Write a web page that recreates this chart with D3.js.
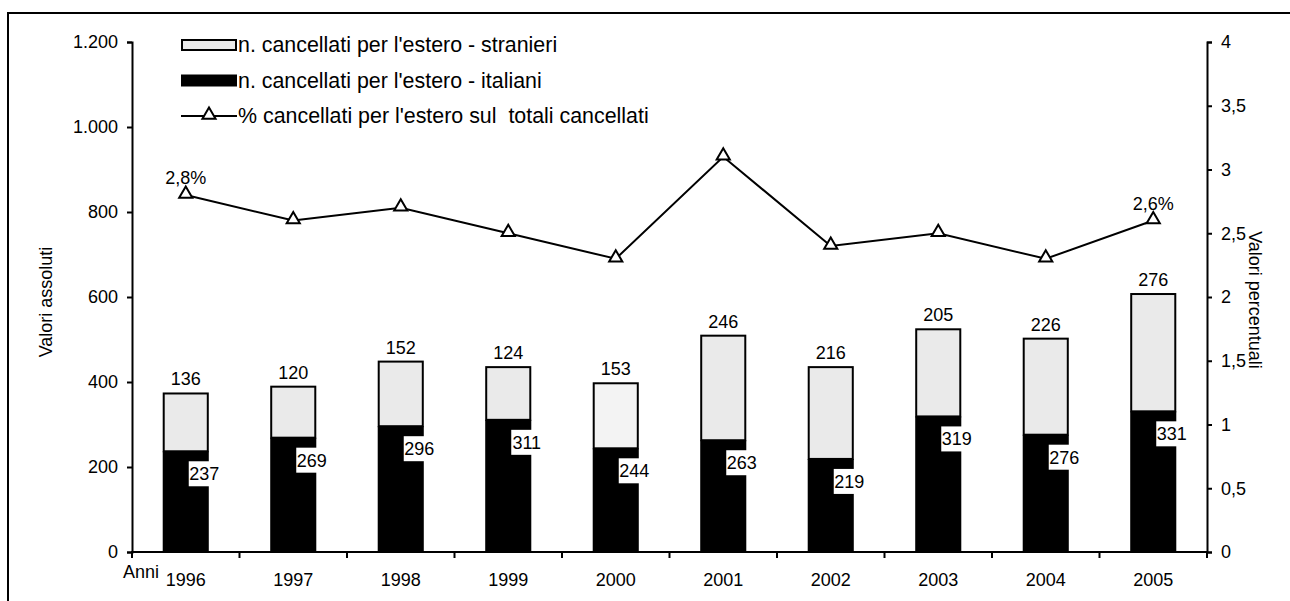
<!DOCTYPE html>
<html>
<head>
<meta charset="utf-8">
<title>cancellati per l'estero</title>
<style>
  body { margin: 0; background: #fff; }
  svg text { font-family: "Liberation Sans", Arial, sans-serif; fill: #000; white-space: pre; }
</style>
</head>
<body>
<div id="chart"></div>
<script src="https://cdn.jsdelivr.net/npm/d3@7/dist/d3.min.js"></script>
<script>
// dati
var anni = ["1996","1997","1998","1999","2000","2001","2002","2003","2004","2005"];
var italiani = [237, 269, 296, 311, 244, 263, 219, 319, 276, 331];
var stranieri = [136, 120, 152, 124, 153, 246, 216, 205, 226, 276];
var percentuale = [2.8, 2.6, 2.7, 2.5, 2.3, 3.1, 2.4, 2.5, 2.3, 2.6];
var tickSx = [0, 200, 400, 600, 800, 1000, 1200];
var tickDx = [0, 0.5, 1, 1.5, 2, 2.5, 3, 3.5, 4];
var legenda = ["n. cancellati per l'estero - stranieri", "n. cancellati per l'estero - italiani", "% cancellati per l'estero sul  totali cancellati"];

var W = 1290, H = 601;
var mLeft = 132, mRight = 1207, mTop = 42, mBottom = 552;
var fs = "18px";

var svg = d3.select("#chart").append("svg")
  .attr("width", W).attr("height", H);

// cornice (solo alto e sinistra visibili)
svg.append("rect")
  .attr("x", 8).attr("y", 13)
  .attr("width", W + 20).attr("height", H + 20)
  .attr("fill", "none").attr("stroke", "#000").attr("stroke-width", 2);

var x = d3.scaleBand().domain(anni).range([mLeft, mRight]).paddingInner(0.59).paddingOuter(0.295);
var xTicks = d3.scaleBand().domain(anni).range([mLeft, mRight]);
var ySx = d3.scaleLinear().domain([0, 1200]).range([mBottom, mTop]);
var yDx = d3.scaleLinear().domain([0, 4]).range([mBottom, mTop]);

var itFmt = function(v){ return d3.format(",")(v).replace(/,/g, "."); };
var pctFmt = function(v){ return String(v).replace(".", ","); };

// barre stranieri (sopra)
svg.append("g").selectAll("rect")
  .data(anni).enter().append("rect")
  .attr("x", function(d){ return x(d); })
  .attr("y", function(d,i){ return ySx(italiani[i] + stranieri[i]); })
  .attr("width", x.bandwidth())
  .attr("height", function(d,i){ return ySx(italiani[i]) - ySx(italiani[i] + stranieri[i]); })
  .attr("fill", function(d){ return d == "2000" ? "#f3f3f3" : "#eaeaea"; })
  .attr("stroke", "#000").attr("stroke-width", 2);

// barre italiani
svg.append("g").selectAll("rect")
  .data(anni).enter().append("rect")
  .attr("x", function(d){ return x(d) - 1; })
  .attr("y", function(d,i){ return ySx(italiani[i]); })
  .attr("width", x.bandwidth() + 2)
  .attr("height", function(d,i){ return mBottom - ySx(italiani[i]); })
  .attr("fill", "#000");

// etichette stranieri
svg.append("g").selectAll("text")
  .data(anni).enter().append("text")
  .attr("x", function(d){ return x(d) + x.bandwidth()/2; })
  .attr("y", function(d,i){ return ySx(italiani[i] + stranieri[i]) - 8; })
  .attr("text-anchor", "middle").attr("font-size", fs)
  .text(function(d,i){ return stranieri[i]; });

// etichette italiani (box bianco)
var lab = svg.append("g").selectAll("g")
  .data(anni).enter().append("g")
  .attr("transform", function(d,i){
    return "translate(" + (x(d) + x.bandwidth()/2 + 3) + "," + (ySx(italiani[i]) + 10) + ")";
  });
lab.append("rect").attr("width", 31).attr("height", 25).attr("fill", "#fff");
lab.append("text").attr("x", 15.5).attr("y", 19)
  .attr("text-anchor", "middle").attr("font-size", fs)
  .text(function(d,i){ return italiani[i]; });

// assi
var axSx = svg.append("g").attr("transform", "translate(" + mLeft + ",0)")
  .call(d3.axisLeft(ySx).tickValues(tickSx).tickFormat(itFmt).tickSizeOuter(0).tickSize(5).tickPadding(9));
var axDx = svg.append("g").attr("transform", "translate(" + mRight + ",0)")
  .call(d3.axisRight(yDx).tickValues(tickDx).tickFormat(pctFmt).tickSizeOuter(0).tickSize(5).tickPadding(9));
var axX = svg.append("g").attr("transform", "translate(0," + mBottom + ")");
axX.append("line").attr("x1", mLeft - 1).attr("x2", mRight + 1).attr("stroke", "#000").attr("stroke-width", 2);
axX.selectAll(".tk").data(anni.concat(["end"])).enter().append("line")
  .attr("x1", function(d,i){ return i < anni.length ? xTicks(d) : mRight; })
  .attr("x2", function(d,i){ return i < anni.length ? xTicks(d) : mRight; })
  .attr("y1", 0).attr("y2", 6).attr("stroke", "#000").attr("stroke-width", 2);
axX.selectAll(".yr").data(anni).enter().append("text")
  .attr("x", function(d){ return x(d) + x.bandwidth()/2; })
  .attr("y", 34).attr("text-anchor", "middle").attr("font-size", fs)
  .text(function(d){ return d; });
axX.append("text").attr("x", 123).attr("y", 26).attr("font-size", fs).text("Anni");

[axSx, axDx].forEach(function(a){
  a.select(".domain").attr("stroke-width", 2);
  a.selectAll(".tick line").attr("stroke-width", 2);
  a.selectAll(".tick text").attr("font-size", fs).attr("font-family", "Liberation Sans, Arial, sans-serif");
});

// titoli assi
svg.append("text").attr("transform", "translate(52,302) rotate(-90)")
  .attr("text-anchor", "middle").attr("font-size", fs).text("Valori assoluti");
svg.append("text").attr("transform", "translate(1249,300) rotate(90)")
  .attr("text-anchor", "middle").attr("font-size", fs).text("Valori percentuali");

// linea percentuale
var cx = function(i){ return x(anni[i]) + x.bandwidth()/2; };
var line = d3.line().x(function(d,i){ return cx(i); }).y(function(d){ return yDx(d); });
svg.append("path").datum(percentuale).attr("d", line)
  .attr("fill", "none").attr("stroke", "#000").attr("stroke-width", 2);

var tri = d3.symbol().type(d3.symbolTriangle).size(75);
svg.append("g").selectAll("path")
  .data(percentuale).enter().append("path")
  .attr("d", tri)
  .attr("transform", function(d,i){ return "translate(" + cx(i) + "," + (yDx(d) - 1) + ")"; })
  .attr("fill", "#fff").attr("stroke", "#000").attr("stroke-width", 2);

// etichette primo e ultimo
[0, percentuale.length - 1].forEach(function(i){
  svg.append("text").attr("x", cx(i)).attr("y", yDx(percentuale[i]) - 11)
    .attr("text-anchor", "middle").attr("font-size", fs)
    .text(pctFmt(percentuale[i]) + "%");
});

// legenda
var leg = svg.append("g");
var ly = [45, 80.5, 116];
leg.append("rect").attr("x", 182).attr("y", ly[0] - 5).attr("width", 54).attr("height", 10)
  .attr("fill", "#eaeaea").attr("stroke", "#000").attr("stroke-width", 2);
leg.append("rect").attr("x", 181).attr("y", ly[1] - 6).attr("width", 56).attr("height", 12)
  .attr("fill", "#000");
leg.append("line").attr("x1", 181).attr("x2", 237).attr("y1", ly[2]).attr("y2", ly[2])
  .attr("stroke", "#000").attr("stroke-width", 2);
leg.append("path").attr("d", tri).attr("transform", "translate(209," + (ly[2] - 1) + ")")
  .attr("fill", "#fff").attr("stroke", "#000").attr("stroke-width", 2);
leg.selectAll("text").data(legenda).enter().append("text")
  .attr("x", 238).attr("y", function(d,i){ return ly[i] + 7; })
  .attr("font-size", "21.4px").text(function(d){ return d; });
</script>
</body>
</html>
